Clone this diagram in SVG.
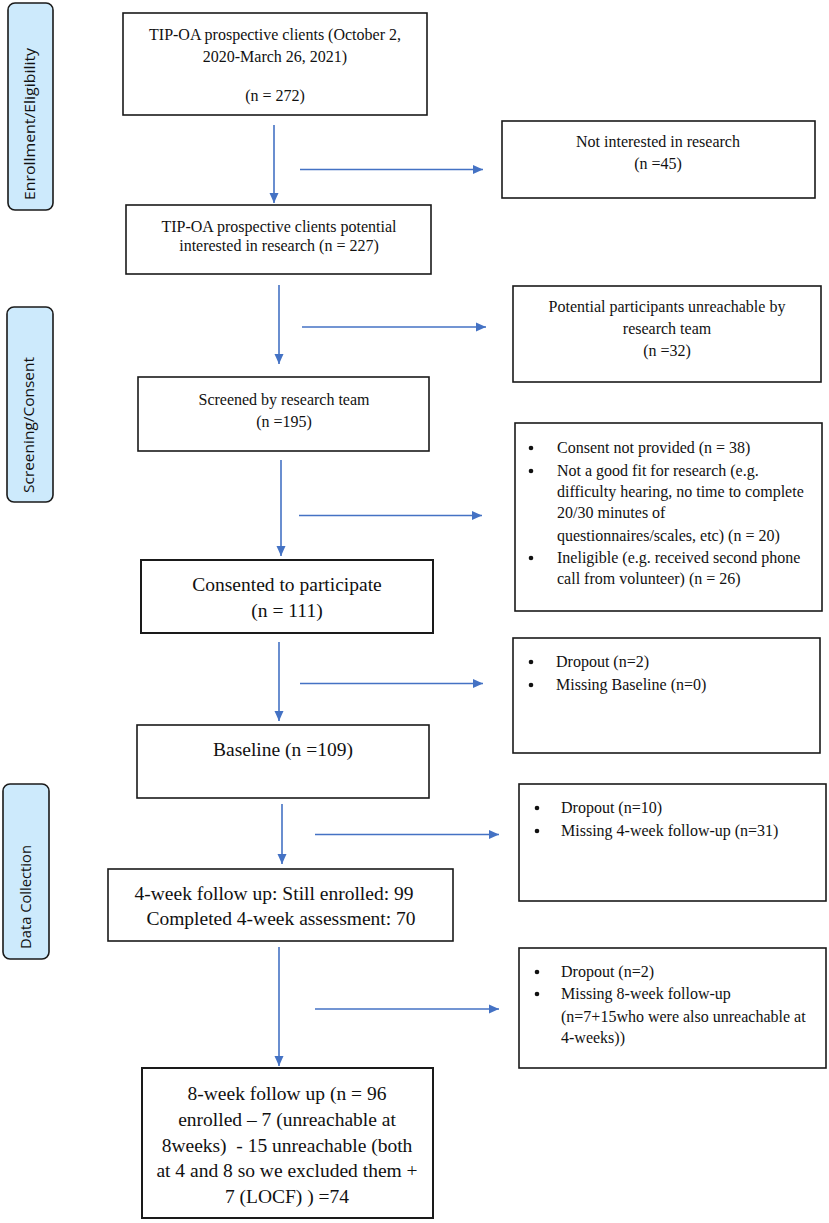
<svg xmlns="http://www.w3.org/2000/svg" width="829" height="1223" viewBox="0 0 829 1223">
<style>
.box{fill:#fff;stroke:#1a1a1a;stroke-width:1.6}
.lab{fill:#cdeafc;stroke:#1a1a1a;stroke-width:1.6}
.t{font-family:"Liberation Serif","Times New Roman",serif;font-size:16px;fill:#111}
.tl{font-family:"Liberation Serif","Times New Roman",serif;font-size:19.5px;fill:#111}
.c{text-anchor:middle}
.side{font-family:"Open Sans","Noto Sans",sans-serif;font-size:15px;fill:#111}
.arr{stroke:#4472c4;stroke-width:1.6;fill:none;marker-end:url(#ah)}
.dot{fill:#111}
</style>
<defs>
<marker id="ah" markerUnits="userSpaceOnUse" markerWidth="10" markerHeight="10" refX="10" refY="5" orient="auto" viewBox="0 0 10 10">
<path d="M0,0.5 L10,5 L0,9.5 z" fill="#4472c4"/>
</marker>
</defs>
<rect width="829" height="1223" fill="#fff"/>

<g id="label-enrollment">
<rect class="lab" x="8" y="3" width="45" height="207" rx="7"/>
<text class="side" transform="translate(35,200) rotate(-90)" textLength="152" lengthAdjust="spacingAndGlyphs">Enrollment/Eligibility</text>
</g>
<g id="label-screening">
<rect class="lab" x="7" y="307" width="46" height="195" rx="7"/>
<text class="side" transform="translate(34,493) rotate(-90)" textLength="136" lengthAdjust="spacingAndGlyphs">Screening/Consent</text>
</g>
<g id="label-data">
<rect class="lab" x="3" y="784" width="46" height="175" rx="7"/>
<text class="side" transform="translate(31,949) rotate(-90)" textLength="104" lengthAdjust="spacingAndGlyphs">Data Collection</text>
</g>

<g id="n1">
<rect class="box" x="123" y="13" width="304" height="102"/>
<text class="t c" x="275" y="40">TIP-OA prospective clients (October 2,</text>
<text class="t c" x="275" y="62">2020-March 26, 2021)</text>
<text class="t c" x="275" y="101">(n = 272)</text>
</g>
<g id="n1x">
<rect class="box" x="502" y="121" width="313" height="77"/>
<text class="t c" x="658" y="147">Not interested in research</text>
<text class="t c" x="658" y="169">(n =45)</text>
</g>
<g id="n2">
<rect class="box" x="126" y="205" width="305" height="69"/>
<text class="t c" x="279" y="232">TIP-OA prospective clients potential</text>
<text class="t c" x="279" y="251">interested in research (n = 227)</text>
</g>
<g id="n2x">
<rect class="box" x="513" y="286" width="308" height="96"/>
<text class="t c" x="667" y="312">Potential participants unreachable by</text>
<text class="t c" x="667" y="334">research team</text>
<text class="t c" x="667" y="356">(n =32)</text>
</g>
<g id="n3">
<rect class="box" x="138" y="377" width="291" height="74"/>
<text class="t c" x="284" y="405">Screened by research team</text>
<text class="t c" x="284" y="427">(n =195)</text>
</g>
<g id="n3x">
<rect class="box" x="515" y="423" width="307" height="188"/>
<circle class="dot" cx="531" cy="448" r="2.3"/>
<text class="t" x="557" y="453">Consent not provided (n = 38)</text>
<circle class="dot" cx="531" cy="471" r="2.3"/>
<text class="t" x="557" y="476">Not a good fit for research (e.g.</text>
<text class="t" x="557" y="497">difficulty hearing, no time to complete</text>
<text class="t" x="557" y="518">20/30 minutes of</text>
<text class="t" x="557" y="541">questionnaires/scales, etc) (n = 20)</text>
<circle class="dot" cx="531" cy="558" r="2.3"/>
<text class="t" x="557" y="563">Ineligible (e.g. received second phone</text>
<text class="t" x="557" y="584">call from volunteer) (n = 26)</text>
</g>
<g id="n4">
<rect class="box" x="141" y="560" width="292" height="73" style="stroke-width:2"/>
<text class="tl c" x="287" y="591">Consented to participate</text>
<text class="tl c" x="287" y="617">(n = 111)</text>
</g>
<g id="n4x">
<rect class="box" x="513" y="638" width="307" height="115"/>
<circle class="dot" cx="531" cy="662" r="2.3"/>
<text class="t" x="556" y="667">Dropout (n=2)</text>
<circle class="dot" cx="531" cy="685" r="2.3"/>
<text class="t" x="556" y="690">Missing Baseline (n=0)</text>
</g>
<g id="n5">
<rect class="box" x="137" y="725" width="292" height="73"/>
<text class="tl c" x="283" y="756">Baseline (n =109)</text>
</g>
<g id="n5x">
<rect class="box" x="519" y="784" width="307" height="117"/>
<circle class="dot" cx="537" cy="808" r="2.3"/>
<text class="t" x="561" y="813">Dropout (n=10)</text>
<circle class="dot" cx="537" cy="831" r="2.3"/>
<text class="t" x="561" y="836">Missing 4-week follow-up (n=31)</text>
</g>
<g id="n6">
<rect class="box" x="108" y="869" width="345" height="72"/>
<text class="tl c" x="274" y="900">4-week follow up: Still enrolled: 99</text>
<text class="tl c" x="281" y="925">Completed 4-week assessment: 70</text>
</g>
<g id="n6x">
<rect class="box" x="519" y="948" width="307" height="120"/>
<circle class="dot" cx="537" cy="972" r="2.3"/>
<text class="t" x="561" y="977">Dropout (n=2)</text>
<circle class="dot" cx="537" cy="994" r="2.3"/>
<text class="t" x="561" y="999">Missing 8-week follow-up</text>
<text class="t" x="561" y="1022">(n=7+15who were also unreachable at</text>
<text class="t" x="561" y="1043">4-weeks))</text>
</g>
<g id="n7">
<rect class="box" x="142" y="1068" width="291" height="150" style="stroke-width:2"/>
<text class="tl c" x="287" y="1100">8-week follow up (n = 96</text>
<text class="tl c" x="287" y="1126">enrolled – 7 (unreachable at</text>
<text class="tl c" x="287" y="1152">8weeks)&#160; - 15 unreachable (both</text>
<text class="tl c" x="287" y="1177">at 4 and 8 so we excluded them +</text>
<text class="tl c" x="287" y="1203">7 (LOCF) ) =74</text>
</g>

<g id="connectors">
<line class="arr" x1="274" y1="125" x2="274" y2="203"/>
<line class="arr" x1="279" y1="285" x2="279" y2="364"/>
<line class="arr" x1="281" y1="460" x2="281" y2="556"/>
<line class="arr" x1="279" y1="642" x2="279" y2="721"/>
<line class="arr" x1="282" y1="804" x2="282" y2="864"/>
<line class="arr" x1="279" y1="947" x2="279" y2="1066"/>
<line class="arr" x1="300" y1="169.5" x2="483" y2="169.5"/>
<line class="arr" x1="302" y1="327" x2="486" y2="327"/>
<line class="arr" x1="299" y1="515.5" x2="482" y2="515.5"/>
<line class="arr" x1="300" y1="683.5" x2="483" y2="683.5"/>
<line class="arr" x1="315" y1="834.5" x2="499" y2="834.5"/>
<line class="arr" x1="315" y1="1009" x2="499" y2="1009"/>
</g>
</svg>
